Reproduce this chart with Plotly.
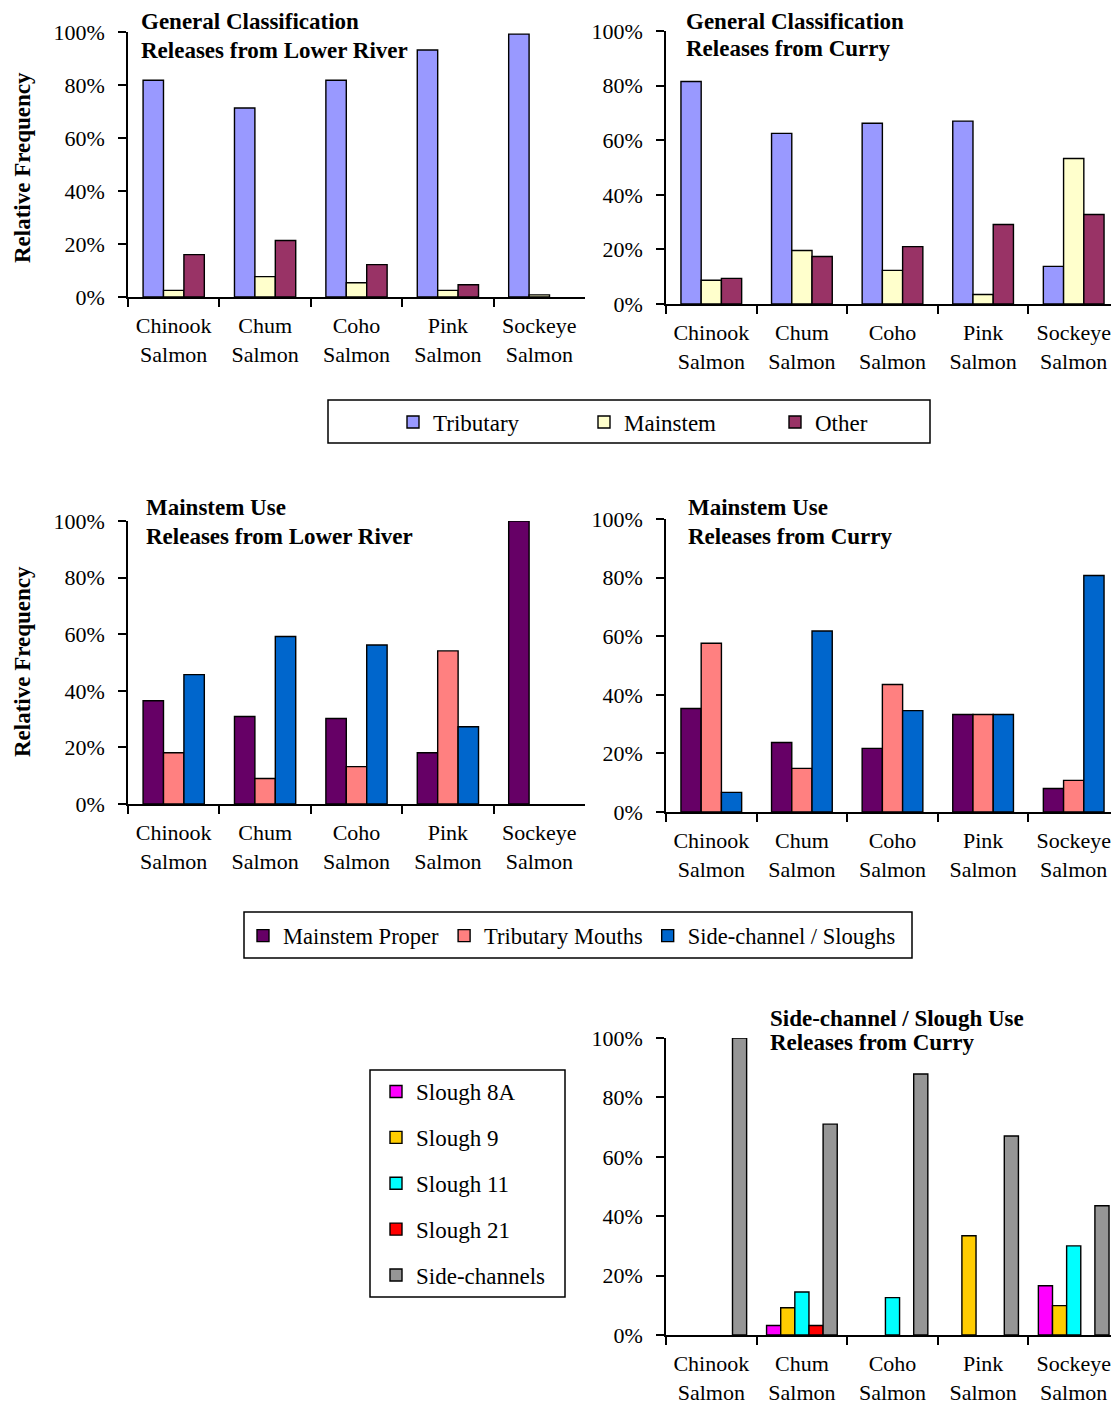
import plotly.graph_objects as go

# Reference canvas size; the page body adds an 8px margin, so the figure is drawn 8px smaller
W, H = 1119, 1404
OFF = 8
FW, FH = W - OFF, H - OFF

categories = ["Chinook<br>Salmon", "Chum<br>Salmon", "Coho<br>Salmon", "Pink<br>Salmon", "Sockeye<br>Salmon"]

# General Classification - releases from Lower River (%)  (None = no bar)
gen_lower_tributary = [81.8, 71.3, 81.8, 93.2, 99.2]
gen_lower_mainstem = [2.5, 7.7, 5.4, 2.5, 0.8]
gen_lower_other = [16.0, 21.3, 12.2, 4.6, None]

# General Classification - releases from Curry (%)
gen_curry_tributary = [81.5, 62.5, 66.2, 67.0, 13.8]
gen_curry_mainstem = [8.7, 19.6, 12.3, 3.5, 53.3]
gen_curry_other = [9.4, 17.4, 21.0, 29.1, 32.8]

# Mainstem Use - releases from Lower River (%)
ms_lower_proper = [36.5, 30.9, 30.2, 18.1, 100.0]
ms_lower_tribmouth = [18.1, 9.0, 13.2, 54.1, None]
ms_lower_side = [45.7, 59.2, 56.2, 27.3, None]

# Mainstem Use - releases from Curry (%)
ms_curry_proper = [35.3, 23.7, 21.7, 33.3, 8.0]
ms_curry_tribmouth = [57.6, 14.9, 43.5, 33.3, 10.8]
ms_curry_side = [6.7, 61.8, 34.6, 33.3, 80.7]

# Side-channel / Slough Use - releases from Curry (%)
sl_8a = [None, 3.2, None, None, 16.6]
sl_9 = [None, 9.2, None, 33.4, 9.9]
sl_11 = [None, 14.5, 12.6, None, 30.0]
sl_21 = [None, 3.2, None, None, None]
sl_side = [100.0, 71.0, 87.9, 67.0, 43.5]

y_tickvals = [0, 20, 40, 60, 80, 100]
y_ticktext = ["0%", "20%", "40%", "60%", "80%", "100%"]

FONT = "Liberation Serif"

C_TRIB, C_MAIN, C_OTHER = "#9999FF", "#FFFFCC", "#993366"
C_PROPER, C_MOUTH, C_SIDE = "#660066", "#FF8080", "#0066CC"
C_8A, C_9, C_11, C_21, C_SC = "#FF00FF", "#FFCC00", "#00FFFF", "#FF0000", "#969696"


def px(x):
    return (x - OFF) / FW


def py(y):
    return 1 - (y - OFF) / FH


fig = go.Figure()
line = dict(color="black", width=1.4)


def add_bar(name, vals, color, ax, legend, show, **kw):
    fig.add_trace(go.Bar(
        x=categories, y=vals, name=name, marker=dict(color=color, line=line),
        xaxis="x" + ax, yaxis="y" + ax, legend=legend, showlegend=show,
        legendgroup=name, hoverinfo="skip", **kw))


# Panel 1 & 2
add_bar("Tributary", gen_lower_tributary, C_TRIB, "", "legend", True)
add_bar("Mainstem", gen_lower_mainstem, C_MAIN, "", "legend", True)
add_bar("Other", gen_lower_other, C_OTHER, "", "legend", True)
add_bar("Tributary", gen_curry_tributary, C_TRIB, "2", "legend", False)
add_bar("Mainstem", gen_curry_mainstem, C_MAIN, "2", "legend", False)
add_bar("Other", gen_curry_other, C_OTHER, "2", "legend", False)

# Panel 3 & 4
add_bar("Mainstem Proper", ms_lower_proper, C_PROPER, "3", "legend2", True)
add_bar("Tributary Mouths", ms_lower_tribmouth, C_MOUTH, "3", "legend2", True)
add_bar("Side-channel / Sloughs", ms_lower_side, C_SIDE, "3", "legend2", True)
add_bar("Mainstem Proper", ms_curry_proper, C_PROPER, "4", "legend2", False)
add_bar("Tributary Mouths", ms_curry_tribmouth, C_MOUTH, "4", "legend2", False)
add_bar("Side-channel / Sloughs", ms_curry_side, C_SIDE, "4", "legend2", False)

# Panel 5 (five bars per group, slightly wider slots)
bw = 0.156
for i, (nm, vals, col) in enumerate([
        ("Slough 8A", sl_8a, C_8A), ("Slough 9", sl_9, C_9), ("Slough 11", sl_11, C_11),
        ("Slough 21", sl_21, C_21), ("Side-channels", sl_side, C_SC)]):
    add_bar(nm, vals, col, "5", "legend3", True, width=bw, offset=-2.5 * bw + i * bw)

axis_font = dict(family=FONT, size=22, color="black")
tick_font = dict(family=FONT, size=22, color="black")


def xax(x0, x1, anchor):
    return dict(domain=[px(x0), min(px(x1), 1.0)], anchor=anchor, type="category",
                showline=True, linecolor="black", linewidth=1.5, mirror=False,
                ticks="outside", tickson="boundaries", ticklen=8, tickwidth=1.5,
                tickcolor="black", tickfont=axis_font, showgrid=False,
                ticklabelstandoff=8, fixedrange=True, automargin=False)


def yax(y_top, y_bot, anchor):
    return dict(domain=[py(y_bot), py(y_top)], anchor=anchor, range=[0, 100],
                tickmode="array", tickvals=y_tickvals, ticktext=y_ticktext,
                showline=True, linecolor="black",
                linewidth=1.5, ticks="outside", ticklen=8, tickwidth=1.5,
                tickcolor="black", tickfont=tick_font, showgrid=False, zeroline=False,
                ticklabelstandoff=9, fixedrange=True, automargin=False)


leg_font = dict(family=FONT, size=23, color="black")
leg2_font = dict(family=FONT, size=22.5, color="black")

layout = dict(
    width=FW, height=FH, autosize=False,
    margin=dict(l=0, r=0, t=0, b=0, autoexpand=False),
    paper_bgcolor="white", plot_bgcolor="white",
    barmode="group", bargap=0.33, bargroupgap=0,
    xaxis=xax(128, 585, "y"), yaxis=yax(32, 297, "x"),
    xaxis2=xax(666, 1119, "y2"), yaxis2=yax(31, 304, "x2"),
    xaxis3=xax(128, 585, "y3"), yaxis3=yax(521, 804, "x3"),
    xaxis4=xax(666, 1119, "y4"), yaxis4=yax(519, 812, "x4"),
    xaxis5=xax(666, 1119, "y5"), yaxis5=yax(1038, 1335, "x5"),
    legend=dict(orientation="h", x=px(393), xanchor="left", y=py(422), yanchor="middle",
                font=leg_font, bgcolor="rgba(0,0,0,0)", borderwidth=0,
                entrywidth=146, entrywidthmode="pixels", itemwidth=30, traceorder="normal"),
    legend2=dict(orientation="h", x=px(243), xanchor="left", y=py(936), yanchor="middle",
                 font=leg2_font, bgcolor="rgba(0,0,0,0)", borderwidth=0, itemwidth=30,
                 traceorder="normal"),
    legend3=dict(orientation="v", x=px(376), xanchor="left", y=py(1070), yanchor="top",
                 font=leg_font, bgcolor="rgba(0,0,0,0)", borderwidth=0, itemwidth=30,
                 tracegroupgap=13, traceorder="grouped"),
)
fig.update_layout(**layout)

# legend boxes
for (x0, y0, x1, y1) in [(328, 400, 930, 443), (244, 912, 912, 958), (370, 1070, 565, 1297)]:
    fig.add_shape(type="rect", xref="paper", yref="paper",
                  x0=px(x0), x1=px(x1), y0=py(y1), y1=py(y0),
                  line=dict(color="black", width=1.5), fillcolor="rgba(0,0,0,0)", layer="below")

title_font = dict(family=FONT, size=23, color="black")
titles = [
    ("General Classification", 139, 22), ("Releases from Lower River", 139, 50),
    ("General Classification", 684, 21), ("Releases from Curry", 684, 49),
    ("Mainstem Use", 144, 508), ("Releases from Lower River", 144, 536),
    ("Mainstem Use", 686, 508), ("Releases from Curry", 686, 536),
    ("Side-channel / Slough Use", 768, 1018), ("Releases from Curry", 768, 1042),
]
for txt, x, y in titles:
    fig.add_annotation(text="<b>" + txt + "</b>", xref="paper", yref="paper",
                       x=px(x), y=py(y), xanchor="left", yanchor="middle",
                       showarrow=False, font=title_font)

for y in (168, 662):
    fig.add_annotation(text="<b>Relative Frequency</b>", xref="paper", yref="paper",
                       x=px(22), y=py(y), xanchor="center", yanchor="middle",
                       textangle=-90, showarrow=False, font=title_font)

fig.write_html("out.html")
